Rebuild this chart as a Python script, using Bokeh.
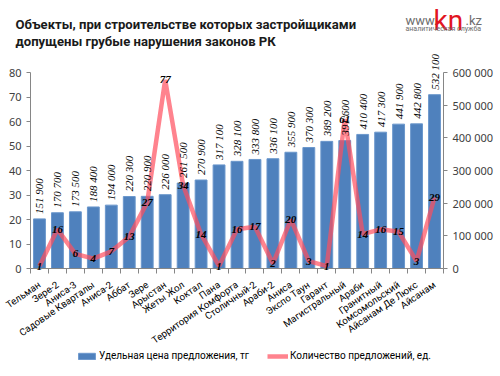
import math
from bokeh.plotting import figure
from bokeh.models import (Range1d, LinearAxis, FixedTicker, ColumnDataSource,
                          LabelSet, Label, Legend, LegendItem)
from bokeh.embed import file_html
from bokeh.resources import INLINE

categories = ["Тельман", "Зере-2", "Аниса-3", "Садовые Кварталы", "Аниса-2", "Аббат",
              "Зере", "Арыстан", "Жеты Жол", "Коктал", "Пана", "Территория Комфорта",
              "Столичный-2", "Араби-2", "Аниса", "Экспо Таун", "Гарант", "Магистральный",
              "Араби", "Гранитный", "Комсомольский", "Айсанам Де Люкс", "Айсанам"]
prices = [151900, 170700, 173500, 188400, 194000, 220300, 220900, 226000, 261500,
          270900, 317100, 328100, 333800, 336100, 355900, 370300, 389200, 391600,
          410400, 417300, 441900, 442800, 532100]
counts = [1, 16, 6, 4, 7, 13, 27, 77, 34, 14, 1, 16, 17, 2, 20, 3, 1, 61, 14, 16, 15, 3, 29]
count_ticks = [0, 10, 20, 30, 40, 50, 60, 70, 80]
price_ticks = [0, 100000, 200000, 300000, 400000, 500000, 600000]

title_lines = ["Объекты, при строительстве которых застройщиками",
               "допущены грубые нарушения законов РК"]
series_names = ["Удельная цена предложения, тг", "Количество предложений, ед."]

FONT = "Roboto"
NFONT = "Noto Sans"


def fmt(v):
    return f"{v:,}".replace(",", " ")


n = len(categories)
xs = [i + 0.5 for i in range(n)]
src = ColumnDataSource(dict(x=xs, cat=categories, price=prices, count=counts,
                            price_lbl=[fmt(v) for v in prices],
                            count_lbl=[str(c) for c in counts]))

W, H = 500, 376
AX_LEFT, AX_RIGHT = 30, 443       # pixel columns of the left and right value axes
AX_TOP, AX_BOT = 72, 268          # pixel rows of the axis maximum and zero
hspan = AX_RIGHT - AX_LEFT
vspan = AX_BOT - AX_TOP
x_lo = -AX_LEFT / hspan * n
x_hi = n + (W - AX_RIGHT) / hspan * n
lo_f = -(H - AX_BOT) / vspan
hi_f = 1 + AX_TOP / vspan

p = figure(width=W, height=H, output_backend="svg", toolbar_location=None, title=None,
           x_range=Range1d(x_lo, x_hi),
           y_range=Range1d(count_ticks[-1] * lo_f, count_ticks[-1] * hi_f),
           min_border_left=0, min_border_right=0, min_border_top=0, min_border_bottom=0)
p.extra_y_ranges = {"price": Range1d(price_ticks[-1] * lo_f, price_ticks[-1] * hi_f)}
p.outline_line_color = None
p.background_fill_color = "white"
p.border_fill_color = "white"

# x axis drawn at the zero line inside the frame
xa = p.xaxis[0]
xa.fixed_location = 0
xa.bounds = (0, n)
xa.ticker = FixedTicker(ticks=xs, minor_ticks=list(range(n + 1)))
xa.major_label_overrides = {x: c for x, c in zip(xs, categories)}
xa.major_label_orientation = 0.6
xa.major_tick_out = 0
xa.major_tick_in = 0
xa.minor_tick_out = 5
xa.minor_tick_in = 0
xa.minor_tick_line_color = "#868686"
xa.axis_line_color = "#868686"
xa.major_label_text_font = FONT
xa.major_label_text_font_size = "9.7px"
xa.major_label_text_color = "#000000"
xa.major_label_standoff = 10

# left axis
ya = p.yaxis[0]
ya.fixed_location = 0
ya.ticker = FixedTicker(ticks=count_ticks)
ya.bounds = (count_ticks[0], count_ticks[-1])
ya.axis_line_color = "#868686"
ya.major_tick_line_color = "#868686"
ya.major_tick_out = 4
ya.major_tick_in = 0
ya.minor_tick_line_color = None
ya.major_label_text_font = NFONT
ya.major_label_text_font_size = "11px"
ya.major_label_text_color = "#404040"
ya.major_label_standoff = 5

# right axis
ra = LinearAxis(y_range_name="price", ticker=FixedTicker(ticks=price_ticks),
                bounds=(price_ticks[0], price_ticks[-1]), fixed_location=n,
                major_label_overrides={v: fmt(v) for v in price_ticks})
ra.axis_line_color = "#868686"
ra.major_tick_line_color = "#868686"
ra.major_tick_out = 4
ra.major_tick_in = 0
ra.minor_tick_line_color = None
ra.major_label_text_font = NFONT
ra.major_label_text_font_size = "11px"
ra.major_label_text_color = "#404040"
ra.major_label_standoff = 5
p.add_layout(ra, "right")

p.xgrid.visible = False
p.ygrid.visible = False

bars = p.vbar(x="x", top="price", width=0.66, source=src, y_range_name="price",
              fill_color="#4f81bd", line_color="#6b97cc", line_width=1)
ln = p.line("x", "count", source=src, line_color="#ff4f5e", line_alpha=0.7, line_width=4.5)

price_labels = LabelSet(x="x", y="price", text="price_lbl", source=src, y_range_name="price",
                        angle=math.pi / 2, text_align="left", text_baseline="middle",
                        y_offset=5, text_font=NFONT, text_font_size="11px",
                        text_font_style="italic", text_color="#000000")
count_labels = LabelSet(x="x", y="count", text="count_lbl", source=src,
                        text_align="center", text_baseline="middle",
                        text_font=NFONT, text_font_size="11px",
                        text_font_style="bold italic", text_color="#000000")
p.add_layout(price_labels)
p.add_layout(count_labels)


def cy(v):
    return H - v


for i, line in enumerate(title_lines):
    p.add_layout(Label(x=15, y=cy(24 + i * 17), x_units="screen", y_units="screen",
                       text=line, text_font=FONT, text_font_size="13.1px",
                       text_font_style="bold", text_color="#1a1a1a",
                       text_baseline="alphabetic", text_align="left"))

# logo
p.add_layout(Label(x=405, y=cy(20), x_units="screen", y_units="screen", text="www.",
                   text_font=FONT, text_font_size="13px", text_color="#6d6d6d",
                   text_baseline="alphabetic"))
p.add_layout(Label(x=433, y=cy(20), x_units="screen", y_units="screen", text="kn",
                   text_font=FONT, text_font_size="28px", text_color="#e2151f",
                   text_baseline="alphabetic"))
p.add_layout(Label(x=465, y=cy(20), x_units="screen", y_units="screen", text=".kz",
                   text_font=FONT, text_font_size="13px", text_color="#6d6d6d",
                   text_baseline="alphabetic"))
p.add_layout(Label(x=405, y=cy(28), x_units="screen", y_units="screen",
                   text="аналитическая служба",
                   text_font=FONT, text_font_size="7px", text_color="#6d6d6d",
                   text_baseline="alphabetic"))

legend = Legend(items=[LegendItem(label=series_names[0], renderers=[bars]),
                       LegendItem(label=series_names[1], renderers=[ln])],
                orientation="horizontal", location=(76, cy(361)),
                glyph_width=21, glyph_height=8, label_height=8, label_standoff=2,
                spacing=18, padding=0, margin=0,
                label_text_font=FONT, label_text_font_size="10px",
                label_text_color="#000000",
                background_fill_alpha=0, border_line_color=None)
p.add_layout(legend)

open("out.html", "w").write(file_html(p, INLINE))
